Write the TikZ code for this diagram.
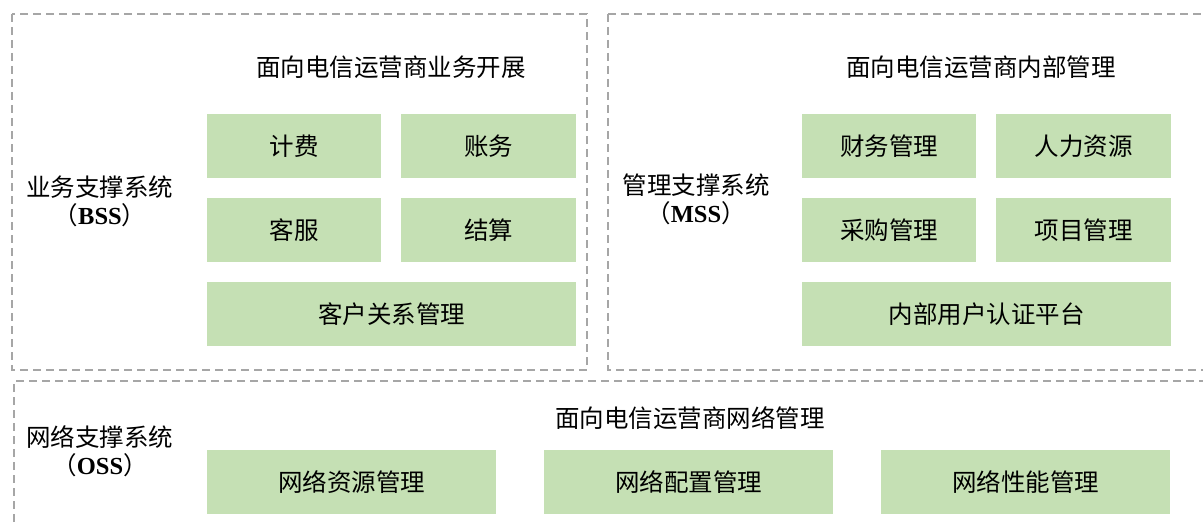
\documentclass[tikz,border=0pt]{standalone}
\usepackage{fontspec}
\setmainfont{Liberation Serif}
\newfontfamily\cjk{Noto Sans CJK SC}
\begin{document}
\begin{tikzpicture}[x=1pt,y=-1pt,
  grp/.style={draw=black!35, dashed, dash pattern=on 8pt off 5pt, line width=1.2pt},
  item/.style={fill=itemgreen, draw=none, minimum height=64pt, inner sep=0pt, font=\cjk\fontsize{24.5}{27}\selectfont},
  ttl/.style={font=\cjk\fontsize{24.5}{27}\selectfont, inner sep=0pt},
  lbl/.style={font=\cjk\fontsize{24.5}{28}\selectfont, align=center, inner sep=0pt}
]
\definecolor{itemgreen}{HTML}{C5E0B4}
\useasboundingbox (0,0) rectangle (1203,527);
% group frames
\draw[grp] (12,14) rectangle (587,370);
\draw[grp] (608,14) -- (1210,14);
\draw[grp] (608,14) -- (608,370) -- (1210,370);
\draw[grp] (14,535) -- (14,381) -- (1210,381);
% titles
\node[ttl] (t1) at (391,67) {面向电信运营商业务开展};
\node[ttl] (t2) at (981,67) {面向电信运营商内部管理};
\node[ttl] (t3) at (690,418) {面向电信运营商网络管理};
% side labels
\node[lbl] (bss) at (100,201) {业务支撑系统\\（{\rmfamily\bfseries BSS}）};
\node[lbl] (mss) at (696,199) {管理支撑系统\\（{\rmfamily\bfseries MSS}）};
\node[lbl] (oss) at (100,451) {网络支撑系统\\（{\rmfamily\bfseries OSS}）};
% BSS items
\node[item, minimum width=174pt] (jf) at (294,146) {计费};
\node[item, minimum width=175pt] (zw) at (488.5,146) {账务};
\node[item, minimum width=174pt] (kf) at (294,230) {客服};
\node[item, minimum width=175pt] (js) at (488.5,230) {结算};
\node[item, minimum width=369pt] (crm) at (391.5,314) {客户关系管理};
% MSS items
\node[item, minimum width=174pt] (cw) at (889,146) {财务管理};
\node[item, minimum width=175pt] (rl) at (1083.5,146) {人力资源};
\node[item, minimum width=174pt] (cg) at (889,230) {采购管理};
\node[item, minimum width=175pt] (xm) at (1083.5,230) {项目管理};
\node[item, minimum width=369pt] (rz) at (986.5,314) {内部用户认证平台};
% OSS items
\node[item, minimum width=289pt] (zy) at (351.5,482) {网络资源管理};
\node[item, minimum width=289pt] (pz) at (688.5,482) {网络配置管理};
\node[item, minimum width=289pt] (xn) at (1025.5,482) {网络性能管理};
\end{tikzpicture}
\end{document}
